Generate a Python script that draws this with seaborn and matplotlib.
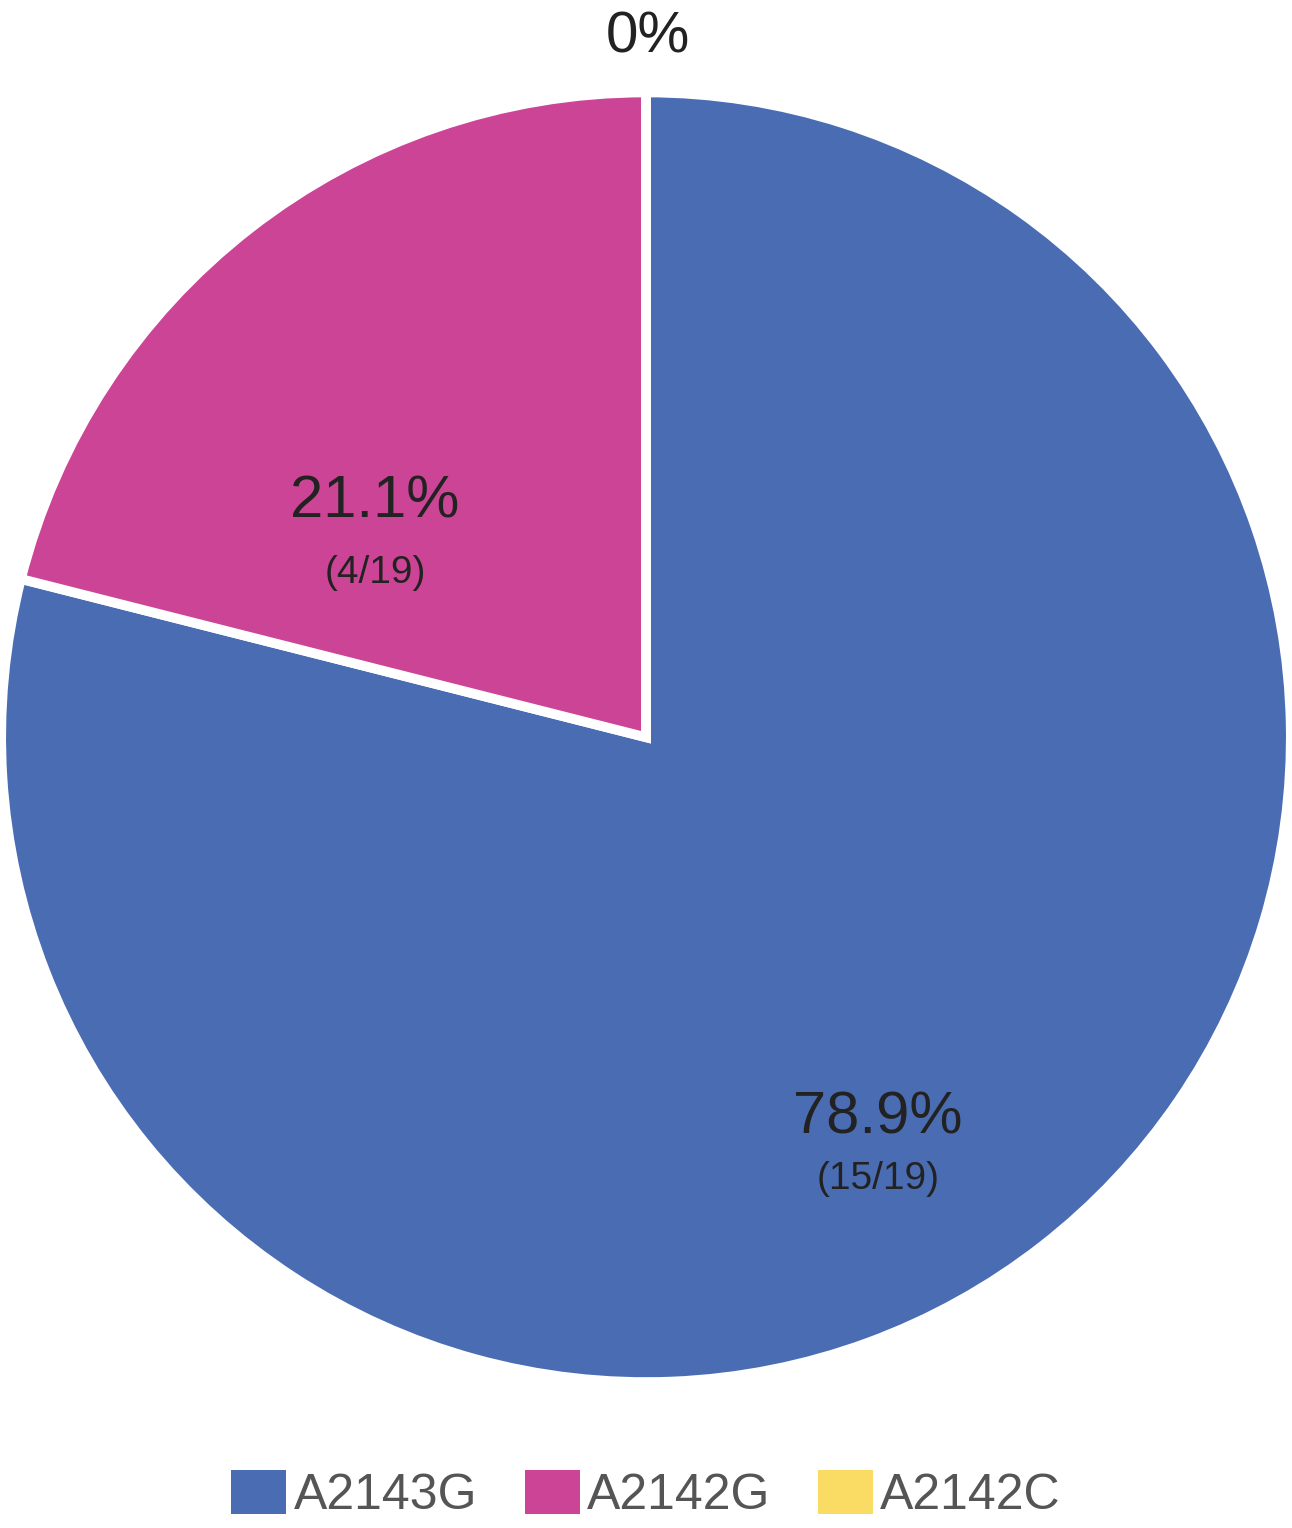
import matplotlib
matplotlib.use("Agg")
import matplotlib.pyplot as plt
import matplotlib.patches as mpatches
import seaborn as sns
import numpy as np

# data
mutations = ["A2143G", "A2142G", "A2142C"]
counts = [15, 4, 0]
total = 19
colors = ["#4A6CB3", "#CC4496", "#FADC64"]

sns.set_theme(style="white")
plt.rcParams['font.family'] = ['Liberation Sans', 'DejaVu Sans']

fig = plt.figure(figsize=(12.92, 15.28), dpi=100)
ax = fig.add_axes([0.0, 0.0955, 1.0, 0.844])

wedges, _ = ax.pie(counts, colors=colors, startangle=90, counterclock=False,
                   wedgeprops=dict(edgecolor="white", linewidth=7))
ax.set_xlim(-1, 1)
ax.set_ylim(-1, 1)
ax.set_aspect("equal")
ax.axis("off")

# percentage labels
ax.text(-0.42, 0.365, f"{counts[1] / total * 100:.1f}%", ha="center", va="center",
        fontsize=43, color="#222222")
ax.text(-0.42, 0.255, f"({counts[1]}/{total})", ha="center", va="center",
        fontsize=28, color="#222222")
ax.text(0.36, -0.59, f"{counts[0] / total * 100:.1f}%", ha="center", va="center",
        fontsize=43, color="#222222")
ax.text(0.36, -0.685, f"({counts[0]}/{total})", ha="center", va="center",
        fontsize=28, color="#222222")
ax.text(0.003, 1.085, f"{counts[2] / total * 100:.0f}%", ha="center", va="center",
        fontsize=42, color="#222222", clip_on=False)

handles = [mpatches.Patch(facecolor=c, edgecolor="none") for c in colors]
leg = fig.legend(handles, mutations, loc="center", bbox_to_anchor=(0.5, 0.022), ncol=3,
                 frameon=False, handlelength=1.1, handleheight=1.0, handletextpad=0.15,
                 columnspacing=0.95, borderaxespad=0,
                 prop={'family': ['Liberation Sans Narrow', 'Liberation Sans', 'DejaVu Sans'],
                       'size': 36})
for t in leg.get_texts():
    t.set_color("#555555")

fig.savefig("out.png", dpi=100, facecolor="white")
